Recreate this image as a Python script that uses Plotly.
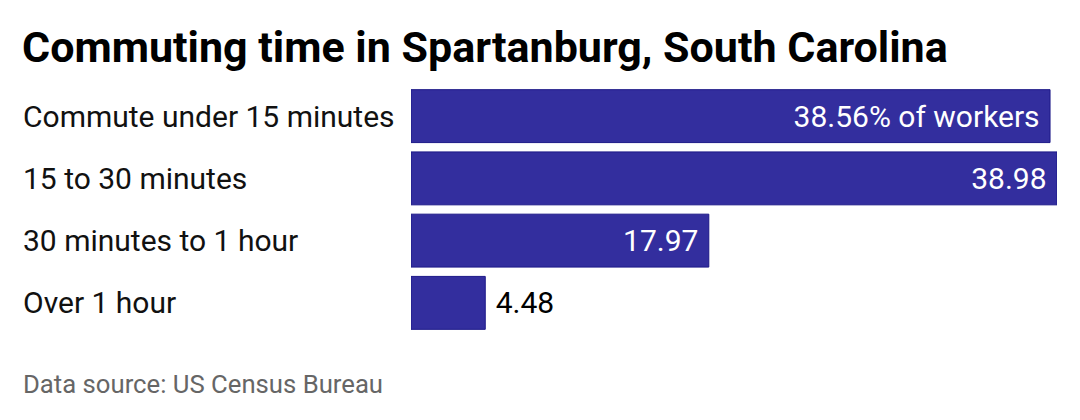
import plotly.graph_objects as go

# %% data
categories = ["Commute under 15 minutes", "15 to 30 minutes", "30 minutes to 1 hour", "Over 1 hour"]
values = [38.56, 38.98, 17.97, 4.48]
value_labels = ["38.56% of workers", "38.98", "17.97", "4.48"]
text_positions = ["inside", "inside", "inside", "outside"]

title = "<b>Commuting time in Spartanburg, South Carolina</b>"
source = "Data source: US Census Bureau"

# %% figure
# page body has an 8px margin, so the figure is drawn 8px smaller
W, H = 1072, 412
plot_top, plot_bottom = 77, 326

fig = go.Figure(go.Bar(
    x=values,
    y=categories,
    orientation="h",
    text=value_labels,
    texttemplate=["%{text}&nbsp;" if p == "inside" else "&nbsp;%{text}" for p in text_positions],
    textposition=text_positions,
    insidetextanchor="end",
    insidetextfont=dict(color="white", size=30, family="Roboto"),
    outsidetextfont=dict(color="black", size=30, family="Roboto"),
    textangle=0,
    cliponaxis=False,
    marker=dict(color="#332e9e", line=dict(color="#1c1888", width=1)),
    hoverinfo="skip",
))

for c in categories:
    fig.add_annotation(
        x=0, xref="paper", xshift=-390, xanchor="left",
        y=c, yref="y", yanchor="middle",
        text=c, showarrow=False,
        font=dict(size=30, color="#111111", family="Roboto"),
    )

fig.add_annotation(
    x=0, xref="paper", xshift=-390, xanchor="left",
    y=-(376 - plot_bottom) / (plot_bottom - plot_top), yref="paper", yanchor="middle",
    text=source, showarrow=False,
    font=dict(size=25.7, color="#666666", family="Roboto"),
)

fig.update_layout(
    width=W, height=H,
    margin=dict(l=403, r=23, t=plot_top, b=H - plot_bottom),
    paper_bgcolor="white", plot_bgcolor="white",
    font=dict(family="Roboto", color="#111111"),
    showlegend=False,
    bargap=0.15,
    title=dict(text=title, x=14 / W, xanchor="left", y=1 - 39 / H, yanchor="middle",
               font=dict(size=43, color="black", family="Roboto")),
    xaxis=dict(range=[0, 38.98], visible=False, fixedrange=True),
    yaxis=dict(autorange="reversed", showticklabels=False, showgrid=False,
               zeroline=False, showline=False, ticks="", fixedrange=True),
)

fig.write_html("out.html")
